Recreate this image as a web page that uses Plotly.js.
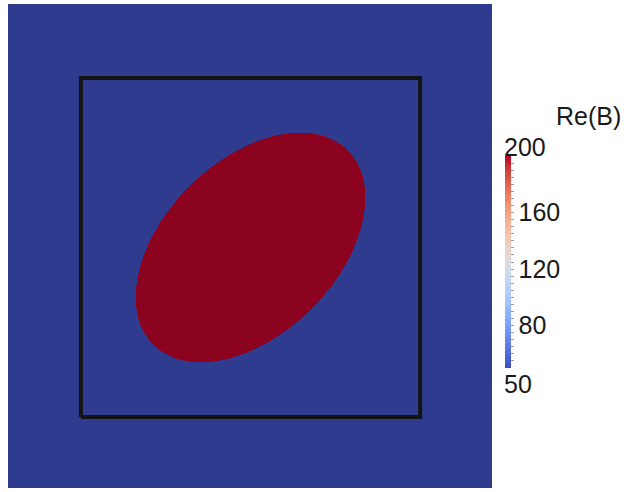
<!DOCTYPE html>
<html>
<head>
<meta charset="utf-8">
<script src="https://cdn.plot.ly/plotly-3.0.1.min.js"></script>
<style>html,body{margin:0;padding:0;background:#fff;}#chart{width:628px;height:492px;}</style>
</head>
<body>
<div id="chart"></div>
<script>
// ---- data ----
const fieldName = 'Re(B)';
const outsideValue = 50;          // value of B outside the inclusion
const insideValue = 200;          // value of B inside the elliptic inclusion
const ellipseCenter = [0.5, 0.5];
const ellipseSemiAxes = [0.405, 0.255];
const ellipseAngleDeg = 45;
const domainX = [-0.215, 1.212];
const domainY = [-0.209, 1.218];
const gridCount = 484;
const boxX = [0, 1, 1, 0, 0];
const boxY = [0, 0, 1, 1, 0];
const colorRange = [50, 200];
const majorTicks = [80, 120, 160];
const minorStep = 5;
const rangeLabels = ['50', '200'];

// ---- build field on grid ----
const xs = [], ys = [];
for (let i = 0; i < gridCount; i++) {
  xs.push(domainX[0] + (i + 0.5) * (domainX[1] - domainX[0]) / gridCount);
  ys.push(domainY[0] + (i + 0.5) * (domainY[1] - domainY[0]) / gridCount);
}
const th = ellipseAngleDeg * Math.PI / 180, c = Math.cos(th), s = Math.sin(th);
const z = ys.map(y => xs.map(x => {
  const dx = x - ellipseCenter[0], dy = y - ellipseCenter[1];
  const u = (dx * c + dy * s) / ellipseSemiAxes[0];
  const v = (-dx * s + dy * c) / ellipseSemiAxes[1];
  return (u * u + v * v <= 1) ? insideValue : outsideValue;
}));

const coolWarm = [
  [0.0, 'rgb(59,76,192)'], [0.0625, 'rgb(77,104,215)'], [0.125, 'rgb(98,130,234)'],
  [0.1875, 'rgb(119,154,247)'], [0.25, 'rgb(141,176,254)'], [0.3125, 'rgb(163,194,255)'],
  [0.375, 'rgb(184,208,249)'], [0.4375, 'rgb(204,217,238)'], [0.5, 'rgb(221,221,221)'],
  [0.5625, 'rgb(236,211,197)'], [0.625, 'rgb(245,196,173)'], [0.6875, 'rgb(247,177,148)'],
  [0.75, 'rgb(244,154,123)'], [0.8125, 'rgb(236,127,99)'], [0.875, 'rgb(222,96,77)'],
  [0.9375, 'rgb(203,62,56)'], [1.0, 'rgb(180,4,38)']
];
// shaded (lit) version used for the rendered surface
const shaded = [[0, '#2f3b8e'], [1, '#8b031e']];

const tickvals = [], ticktext = [];
for (let v = colorRange[0] + minorStep; v < colorRange[1]; v += minorStep) {
  tickvals.push(v);
  ticktext.push(majorTicks.includes(v) ? String(v) : '');
}

const font = 'Liberation Sans, Arial, sans-serif';

const traces = [
  {
    type: 'heatmap', x: xs, y: ys, z: z,
    zmin: colorRange[0], zmax: colorRange[1],
    colorscale: shaded, showscale: false, zsmooth: false, hoverinfo: 'skip'
  },
  {
    type: 'scatter', mode: 'lines', x: boxX, y: boxY,
    line: {color: '#141414', width: 4}, hoverinfo: 'skip', showlegend: false
  },
  {
    type: 'scatter', mode: 'markers', x: [ellipseCenter[0]], y: [ellipseCenter[1]],
    hoverinfo: 'skip', showlegend: false,
    marker: {
      color: [outsideValue], cmin: colorRange[0], cmax: colorRange[1],
      colorscale: coolWarm, opacity: 0, size: 1, showscale: true,
      colorbar: {
        x: (505 - 8) / 484, xanchor: 'left', xpad: 0, xref: 'paper',
        y: (488 - 262) / 484, yanchor: 'middle', ypad: 0, yref: 'paper',
        len: 212, lenmode: 'pixels', thickness: 6, thicknessmode: 'pixels',
        outlinewidth: 0, borderwidth: 0,
        tickmode: 'array', tickvals: tickvals, ticktext: ticktext,
        ticks: 'outside', ticklen: 3, tickwidth: 1, tickcolor: '#9a9a9a',
        tickfont: {family: font, size: 25, color: '#1a1a1a'}
      }
    }
  }
];

const layout = {
  width: 628, height: 492,
  margin: {l: 8, r: 136, t: 4, b: 4},
  paper_bgcolor: '#ffffff', plot_bgcolor: '#2f3b8e',
  showlegend: false,
  xaxis: {range: domainX, visible: false, fixedrange: true},
  yaxis: {range: domainY, visible: false, fixedrange: true},
  annotations: [
    {text: fieldName, xref: 'paper', yref: 'paper', x: (623 - 8) / 484, y: (488 - 116) / 484,
     xanchor: 'right', yanchor: 'middle', showarrow: false,
     font: {family: font, size: 25, color: '#1a1a1a'}},
    {text: rangeLabels[1], xref: 'paper', yref: 'paper', x: (502 - 8) / 484, y: (488 - 146.5) / 484,
     xanchor: 'left', yanchor: 'middle', showarrow: false,
     font: {family: font, size: 25, color: '#1a1a1a'}},
    {text: rangeLabels[0], xref: 'paper', yref: 'paper', x: (502 - 8) / 484, y: (488 - 383.5) / 484,
     xanchor: 'left', yanchor: 'middle', showarrow: false,
     font: {family: font, size: 25, color: '#1a1a1a'}}
  ]
};

Plotly.newPlot('chart', traces, layout, {displayModeBar: false, staticPlot: true});
</script>
</body>
</html>
